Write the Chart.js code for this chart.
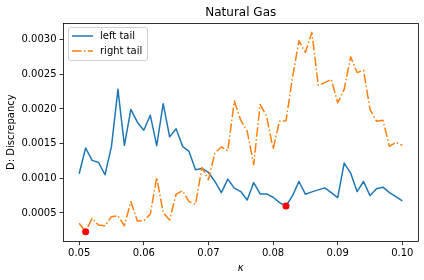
<!DOCTYPE html>
<html>
<head>
<meta charset="utf-8">
<script src="https://cdn.jsdelivr.net/npm/chart.js@4.4.0/dist/chart.umd.min.js"></script>
<style>
  html, body { margin: 0; padding: 0; background: #fff; }
  canvas { display: block; }
</style>
</head>
<body>
<canvas id="gasChart" width="424" height="280"></canvas>
<script>
//kappa values on the x axis
const kappa = [
    0.050, 0.051, 0.052, 0.053, 0.054, 0.055, 0.056, 0.057, 0.058, 0.059,
    0.060, 0.061, 0.062, 0.063, 0.064, 0.065, 0.066, 0.067, 0.068, 0.069,
    0.070, 0.071, 0.072, 0.073, 0.074, 0.075, 0.076, 0.077, 0.078, 0.079,
    0.080, 0.081, 0.082, 0.083, 0.084, 0.085, 0.086, 0.087, 0.088, 0.089,
    0.090, 0.091, 0.092, 0.093, 0.094, 0.095, 0.096, 0.097, 0.098, 0.099,
    0.100
];

const leftTail = [
    0.001065, 0.001437, 0.001258, 0.001229, 0.001051, 0.001461, 0.002282, 0.001475, 0.001993, 0.001809,
    0.001693, 0.001910, 0.001471, 0.002075, 0.001597, 0.001713, 0.001461, 0.001388, 0.001123, 0.001142,
    0.001084, 0.000954, 0.000794, 0.000988, 0.000858, 0.000809, 0.000688, 0.000939, 0.000775, 0.000775,
    0.000727, 0.000650, 0.000601, 0.000746, 0.000954, 0.000771, 0.000804, 0.000833, 0.000862, 0.000794,
    0.000722, 0.001220, 0.001075, 0.000809, 0.000954, 0.000751, 0.000848, 0.000872, 0.000794, 0.000736,
    0.000674
];

const rightTail = [
    0.000351, 0.000230, 0.000423, 0.000326, 0.000316, 0.000447, 0.000461, 0.000316, 0.000664, 0.000384,
    0.000389, 0.000481, 0.001012, 0.000504, 0.000399, 0.000771, 0.000819, 0.000664, 0.000626, 0.001157,
    0.000978, 0.001365, 0.001452, 0.001398, 0.002113, 0.001837, 0.001678, 0.001196, 0.002065, 0.001896,
    0.001423, 0.001823, 0.001828, 0.002450, 0.002982, 0.002814, 0.003104, 0.002340, 0.002379, 0.002427,
    0.002089, 0.002282, 0.002751, 0.002524, 0.002558, 0.001993, 0.001823, 0.001837, 0.001461, 0.001519,
    0.001475
];

//minimum of each tail (red dots)
const minKappa = [0.051, 0.082];
const minValue = [0.000230, 0.000601];

const xTicks = [0.05, 0.06, 0.07, 0.08, 0.09, 0.10];
const yTicks = [0.0005, 0.0010, 0.0015, 0.0020, 0.0025, 0.0030];

const seriesNames = ['left tail', 'right tail'];
const blue = '#1f77b4';
const orange = '#ff7f0e';
const dashDot = [9.6, 2.4, 1.5, 2.4];
const font = 'DejaVu Sans';

function toPoints(xs, ys) {
    return xs.map((x, i) => ({x: x, y: ys[i]}));
}

//frame, title and legend drawn the matplotlib way
const framePlugin = {
    id: 'frame',
    afterDraw(chart) {
        const ctx = chart.ctx;
        const a = chart.chartArea;
        ctx.save();
        ctx.strokeStyle = '#000';
        ctx.lineWidth = 0.8;
        ctx.strokeRect(Math.round(a.left) + 0.5, Math.round(a.top) + 0.5,
            Math.round(a.right - a.left) - 1, Math.round(a.bottom - a.top) - 1);

        //title
        ctx.fillStyle = '#000';
        ctx.font = '12px "' + font + '"';
        ctx.textAlign = 'center';
        ctx.textBaseline = 'middle';
        ctx.fillText('Natural Gas', (a.left + a.right) / 2, 12.5);

        //legend
        const bx = a.left + 5, by = a.top + 4.5, bw = 79, bh = 33;
        ctx.beginPath();
        ctx.roundRect(bx + 0.5, by + 0.5, bw, bh, 2.5);
        ctx.fillStyle = 'rgba(255,255,255,0.8)';
        ctx.fill();
        ctx.strokeStyle = '#d0d0d0';
        ctx.lineWidth = 1;
        ctx.stroke();

        ctx.lineWidth = 1.5;
        ctx.lineCap = 'butt';
        ctx.strokeStyle = blue;
        ctx.setLineDash([]);
        ctx.beginPath();
        ctx.moveTo(bx + 4, by + 9);
        ctx.lineTo(bx + 25, by + 9);
        ctx.stroke();

        ctx.strokeStyle = orange;
        ctx.setLineDash(dashDot);
        ctx.beginPath();
        ctx.moveTo(bx + 4, by + 24);
        ctx.lineTo(bx + 25, by + 24);
        ctx.stroke();
        ctx.setLineDash([]);

        ctx.fillStyle = '#000';
        ctx.font = '10px "' + font + '"';
        ctx.textAlign = 'left';
        ctx.fillText(seriesNames[0], bx + 32, by + 9);
        ctx.fillText(seriesNames[1], bx + 32, by + 24);
        ctx.restore();
    }
};

const gasChartConfig = {
    type: 'line',
    data: {
        datasets: [{
            label: seriesNames[0],
            data: toPoints(kappa, leftTail),
            borderColor: blue,
            borderWidth: 1.5,
            borderJoinStyle: 'round',
            pointRadius: 0,
            tension: 0,
            fill: false,
            order: 2
        },
        {
            label: seriesNames[1],
            data: toPoints(kappa, rightTail),
            borderColor: orange,
            borderWidth: 1.5,
            borderDash: dashDot,
            borderJoinStyle: 'round',
            pointRadius: 0,
            tension: 0,
            fill: false,
            order: 1
        },
        {
            label: 'minimum',
            type: 'scatter',
            data: toPoints(minKappa, minValue),
            backgroundColor: '#ff0000',
            borderColor: '#ff0000',
            pointRadius: 3.5,
            pointBorderWidth: 0,
            order: 0
        }]
    },
    options: {
        responsive: false,
        animation: false,
        devicePixelRatio: 1,
        layout: {
            padding: {top: 22.5, right: 5.5, left: 0, bottom: 0}
        },
        plugins: {
            legend: {display: false},
            title: {display: false},
            tooltip: {enabled: false}
        },
        scales: {
            x: {
                type: 'linear',
                min: 0.0475,
                max: 0.1025,
                afterFit(scale) { scale.height = 38.3; },
                afterBuildTicks(scale) { scale.ticks = xTicks.map(v => ({value: v})); },
                ticks: {
                    color: '#000',
                    padding: 2,
                    maxRotation: 0,
                    font: {family: font, size: 10},
                    callback: v => v.toFixed(2)
                },
                grid: {
                    display: true,
                    drawOnChartArea: false,
                    drawTicks: true,
                    tickLength: 3.5,
                    color: '#000',
                    lineWidth: 0.8
                },
                border: {display: false},
                title: {
                    display: true,
                    text: 'κ',
                    color: '#000',
                    padding: {top: 0, bottom: 6},
                    font: {family: font, size: 10, style: 'italic'}
                }
            },
            y: {
                type: 'linear',
                min: 0.000086,
                max: 0.003246,
                afterFit(scale) { scale.width = 63; },
                afterBuildTicks(scale) { scale.ticks = yTicks.map(v => ({value: v})); },
                ticks: {
                    color: '#000',
                    padding: 3,
                    font: {family: font, size: 10},
                    callback: v => v.toFixed(4)
                },
                grid: {
                    display: true,
                    drawOnChartArea: false,
                    drawTicks: true,
                    tickLength: 3.5,
                    color: '#000',
                    lineWidth: 0.8
                },
                border: {display: false},
                title: {
                    display: true,
                    text: 'D: Discrepancy',
                    color: '#000',
                    padding: {top: 5, bottom: 0},
                    font: {family: font, size: 10}
                }
            }
        }
    },
    plugins: [framePlugin]
};

var gasChart = new Chart(
    document.getElementById('gasChart'),
    gasChartConfig
);
</script>
</body>
</html>
